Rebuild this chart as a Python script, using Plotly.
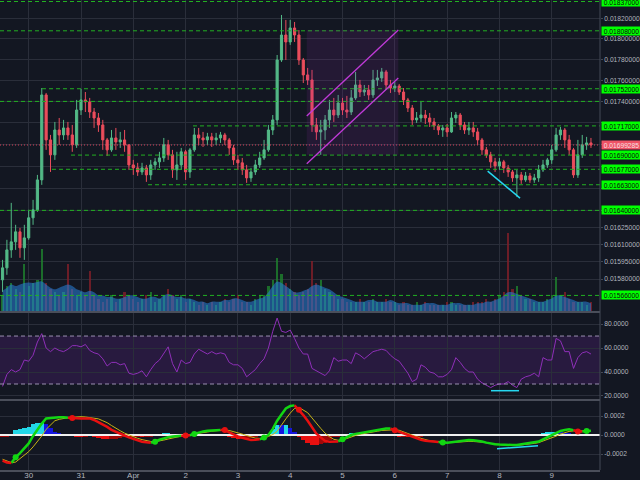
import math
import pandas as pd
import plotly.graph_objects as go

# ---------------- data ----------------
times = pd.date_range("2019-03-29 12:00", periods=136, freq="2h")

first_open = 0.015793
close = [0.015896, 0.016052, 0.016122, 0.016210, 0.016070, 0.016157, 0.016334, 0.016405, 0.016674, 0.017461,
         0.017040, 0.016902, 0.017132, 0.017086, 0.017151, 0.017086, 0.016994, 0.017319, 0.017414, 0.017395,
         0.017300, 0.017244, 0.017179, 0.017040, 0.016948, 0.017058, 0.017021, 0.017040, 0.016994, 0.016810,
         0.016783, 0.016746, 0.016783, 0.016719, 0.016810, 0.016838, 0.016874, 0.016994, 0.016902, 0.016765,
         0.016810, 0.016930, 0.016746, 0.016948, 0.017086, 0.017058, 0.017040, 0.017068, 0.017040, 0.017058,
         0.017086, 0.017040, 0.016966, 0.016856, 0.016829, 0.016765, 0.016692, 0.016746, 0.016810, 0.016874,
         0.016948, 0.017132, 0.017226, 0.017796, 0.018039, 0.017971, 0.018108, 0.018039, 0.017796, 0.017652,
         0.017604, 0.017179, 0.017114, 0.017132, 0.017226, 0.017319, 0.017272, 0.017385, 0.017319, 0.017300,
         0.017433, 0.017556, 0.017489, 0.017508, 0.017461, 0.017604, 0.017623, 0.017681, 0.017556, 0.017527,
         0.017546, 0.017489, 0.017414, 0.017338, 0.017226, 0.017244, 0.017272, 0.017244, 0.017207, 0.017170,
         0.017132, 0.017151, 0.017114, 0.017244, 0.017272, 0.017179, 0.017132, 0.017151, 0.017114, 0.017040,
         0.016948, 0.016902, 0.016838, 0.016801, 0.016838, 0.016783, 0.016746, 0.016692, 0.016719, 0.016674,
         0.016710, 0.016674, 0.016692, 0.016765, 0.016810, 0.016856, 0.016948, 0.017086, 0.017132, 0.017040,
         0.016948, 0.016719, 0.016902, 0.016994, 0.017012, 0.01699285]
high = [0.015965, 0.016140, 0.016467, 0.016272, 0.016245, 0.016272, 0.016405, 0.016494, 0.016719, 0.017527,
        0.017480, 0.017086, 0.017207, 0.017244, 0.017226, 0.017207, 0.017179, 0.017414, 0.017518, 0.017489,
        0.017433, 0.017338, 0.017291, 0.017226, 0.017058, 0.017132, 0.017151, 0.017114, 0.017132, 0.016994,
        0.016856, 0.016829, 0.016829, 0.016810, 0.016856, 0.016874, 0.016930, 0.017058, 0.017040, 0.016948,
        0.016930, 0.016966, 0.016948, 0.016966, 0.017151, 0.017151, 0.017114, 0.017105, 0.017105, 0.017105,
        0.017114, 0.017105, 0.017058, 0.016994, 0.016902, 0.016874, 0.016810, 0.016783, 0.016856, 0.016930,
        0.017040, 0.017179, 0.017272, 0.017844, 0.018236, 0.018187, 0.018187, 0.018167, 0.018088, 0.017815,
        0.017719, 0.017700, 0.017244, 0.017226, 0.017272, 0.017414, 0.017433, 0.017461, 0.017433, 0.017452,
        0.017508, 0.017681, 0.017604, 0.017556, 0.017556, 0.017700, 0.017700, 0.017719, 0.017700, 0.017604,
        0.017585, 0.017566, 0.017527, 0.017433, 0.017366, 0.017300, 0.017395, 0.017319, 0.017291, 0.017244,
        0.017188, 0.017179, 0.017188, 0.017300, 0.017300, 0.017291, 0.017207, 0.017207, 0.017207, 0.017151,
        0.017058, 0.016975, 0.016930, 0.016874, 0.016874, 0.016856, 0.016810, 0.016765, 0.016765, 0.016746,
        0.016746, 0.016737, 0.016728, 0.016810, 0.016856, 0.016874, 0.016994, 0.017151, 0.017160, 0.017151,
        0.017086, 0.016966, 0.017040, 0.017086, 0.017068, 0.017058]
low = [0.015690, 0.015836, 0.015983, 0.016052, 0.015983, 0.015965, 0.016140, 0.016272, 0.016387, 0.016629,
       0.016948, 0.016746, 0.016856, 0.016994, 0.017040, 0.017040, 0.016930, 0.016966, 0.017272, 0.017300,
       0.017244, 0.017151, 0.017114, 0.016948, 0.016893, 0.016930, 0.016948, 0.016966, 0.016930, 0.016765,
       0.016719, 0.016710, 0.016719, 0.016656, 0.016674, 0.016765, 0.016783, 0.016838, 0.016856, 0.016692,
       0.016674, 0.016765, 0.016674, 0.016692, 0.016930, 0.016994, 0.016975, 0.016994, 0.016975, 0.016994,
       0.017012, 0.016994, 0.016902, 0.016810, 0.016765, 0.016719, 0.016647, 0.016656, 0.016719, 0.016783,
       0.016856, 0.016930, 0.017086, 0.017179, 0.017777, 0.017796, 0.017942, 0.017971, 0.017748, 0.017575,
       0.017556, 0.017114, 0.017040, 0.016902, 0.017040, 0.017151, 0.017207, 0.017244, 0.017272, 0.017244,
       0.017272, 0.017414, 0.017442, 0.017452, 0.017414, 0.017433, 0.017546, 0.017585, 0.017508, 0.017480,
       0.017489, 0.017461, 0.017366, 0.017300, 0.017179, 0.017198, 0.017207, 0.017188, 0.017160, 0.017132,
       0.017086, 0.017068, 0.017068, 0.017105, 0.017198, 0.017132, 0.017095, 0.017086, 0.017068, 0.016994,
       0.016902, 0.016874, 0.016783, 0.016746, 0.016765, 0.016737, 0.016701, 0.016656, 0.016521, 0.016638,
       0.016656, 0.016647, 0.016647, 0.016656, 0.016746, 0.016783, 0.016820, 0.016930, 0.017040, 0.016966,
       0.016902, 0.016692, 0.016692, 0.016874, 0.016948, 0.016966]
volume = [5, 8, 9, 7, 6, 15, 8, 9, 10, 20,
          9, 7, 6, 5, 6, 15, 7, 5, 6, 5,
          13, 5, 4, 3, 4, 5, 3, 4, 6, 5,
          4, 3, 4, 5, 6, 3, 4, 5, 7, 5,
          4, 5, 3, 4, 3, 2, 3, 2, 3, 2,
          3, 4, 3, 4, 5, 3, 3, 2, 4, 5,
          5, 8, 10, 17, 12, 9, 7, 6, 5, 6,
          7, 16, 9, 10, 7, 6, 5, 4, 4, 3,
          3, 3, 4, 3, 3, 4, 3, 3, 4, 3,
          3, 2, 3, 2, 2, 3, 2, 3, 2, 2,
          2, 2, 3, 3, 2, 2, 2, 2, 3, 3,
          3, 4, 3, 4, 5, 6, 25, 7, 8, 5,
          4, 4, 3, 3, 3, 4, 5, 11, 5, 6,
          4, 3, 3, 3, 2, 3]
volume_ma = [6.5, 7.5, 8.5, 8.0, 8.5, 9.0, 9.2, 9.0, 9.3, 9.5,
             8.5, 7.5, 7.0, 7.5, 8.0, 8.5, 8.0, 7.0, 6.5, 6.0,
             6.5, 6.0, 5.0, 5.0, 4.5, 4.5, 4.0, 4.0, 4.5, 5.0,
             5.0, 4.5, 4.0, 4.0, 4.5, 4.5, 4.0, 5.0, 5.5, 5.0,
             4.5, 4.5, 4.0, 4.0, 3.5, 3.0, 3.0, 2.5, 3.0, 3.0,
             3.0, 3.5, 3.5, 4.0, 4.0, 3.5, 3.0, 3.0, 3.5, 4.0,
             4.5, 6.0, 8.0, 9.5, 9.0, 8.0, 7.0, 6.0, 6.0, 6.5,
             7.0, 8.0, 8.5, 8.0, 7.5, 7.0, 6.0, 5.0, 4.5, 4.0,
             3.5, 3.0, 3.0, 3.0, 3.5, 3.5, 3.0, 3.0, 3.0, 3.5,
             3.0, 2.5, 2.5, 2.5, 2.0, 2.0, 2.0, 2.5, 2.5, 2.5,
             2.0, 2.0, 2.0, 2.5, 2.5, 2.5, 2.0, 2.0, 2.0, 2.5,
             2.5, 3.0, 3.0, 3.5, 4.0, 5.0, 6.0, 6.0, 5.5, 5.0,
             4.5, 4.0, 3.5, 3.0, 3.0, 3.5, 4.0, 5.0, 5.0, 4.5,
             4.0, 3.5, 3.0, 3.0, 3.0, 2.5]
rsi = [28, 38, 42, 40, 42, 50, 49, 54, 65, 72,
       60, 57, 60, 58, 57, 59, 62, 62, 61, 63,
       58, 56, 55, 51, 45, 48, 48, 46, 47, 39,
       38, 39, 41, 36, 42, 47, 50, 56, 61, 47,
       40, 50, 47, 48, 55, 59, 57, 55, 57, 55,
       56, 55, 48, 46, 46, 43, 36, 39, 42, 47,
       51, 60, 74, 85, 74, 73, 75, 68, 60, 55,
       55, 43, 41, 39, 37, 41, 52, 49, 50, 50,
       47, 56, 54, 51, 54, 57, 58, 59, 58, 54,
       51, 49, 44, 39, 32, 34, 46, 44, 40, 39,
       36, 36, 38, 42, 52, 48, 43, 40, 40, 34,
       31, 29, 27, 29, 30, 30, 32, 29, 27, 34,
       36, 37, 39, 36, 52, 50, 50, 68, 66, 57,
       57, 43, 52, 56, 57, 55]
macd = [-270, -290, -295, -235, -190, -140, -88, -10, 60, 120,
        175, 180, 185, 186, 186, 183, 178, 175, 175, 175,
        175, 158, 135, 110, 85, 55, 32, 12, -5, -25,
        -42, -55, -70, -76, -80, -70, -50, -35, -22, -15,
        -12, -8, -5, -2, 10, 30, 38, 45, 48, 50,
        52, 52, 28, 3, -15, -30, -45, -53, -50, -45,
        -25, 0, 65, 150, 215, 280, 305, 312, 265, 210,
        150, 80, 15, -25, -62, -70, -70, -68, -45, -20,
        0, 12, 20, 28, 35, 45, 55, 62, 68, 68,
        50, 35, 20, 0, -20, -38, -50, -60, -65, -70,
        -74, -78, -80, -75, -70, -60, -53, -53, -55, -60,
        -68, -80, -90, -96, -100, -104, -105, -105, -105, -98,
        -92, -85, -75, -68, -45, -22, 0, 25, 42, 52,
        60, 50, 38, 36, 42, 44]
signal = [-255, -275, -290, -285, -250, -215, -175, -125, -70, -10,
          60, 110, 150, 165, 175, 182, 186, 190, 193, 190,
          185, 178, 170, 150, 130, 100, 70, 45, 20, 0,
          -20, -35, -48, -60, -68, -70, -65, -53, -42, -30,
          -20, -10, -2, 5, 10, 20, 25, 32, 40, 45,
          50, 53, 48, 38, 25, 10, -5, -20, -32, -36,
          -35, -15, 5, 40, 110, 170, 230, 280, 290, 265,
          235, 180, 120, 70, 20, -18, -45, -55, -53, -35,
          -18, -5, 8, 18, 25, 32, 40, 48, 53, 55,
          55, 50, 35, 18, 0, -18, -35, -50, -60, -65,
          -72, -78, -80, -78, -74, -70, -67, -67, -68, -70,
          -75, -82, -90, -96, -100, -105, -108, -109, -107, -104,
          -100, -96, -88, -80, -65, -50, -33, -12, 10, 28,
          38, 44, 42, 40, 42, 43]
macd_scale = 1e-6  # macd / signal lists are in millionths

level_prices = [0.01837, 0.01808, 0.01752, 0.01740, 0.01717, 0.01690, 0.01677, 0.01663, 0.01640, 0.01566]
level_starts = ["2019-03-29 10:50", "2019-03-29 10:50", "2019-03-30 06:06", "2019-03-29 10:50",
                "2019-04-02 03:23", "2019-03-30 19:25", "2019-03-30 10:41", "2019-04-01 06:45",
                "2019-03-29 10:50", "2019-03-29 10:50"]
level_labels = ["0.01837000", "0.01808000", "0.01752000", None, "0.01717000", "0.01690000",
                "0.01677000", "0.01663000", "0.01640000", "0.01566000"]
current_price = 0.01699285
current_label = "0.01699285"

channel_times = ["2019-04-04 07:35", "2019-04-06 01:36"]
channel_upper = [0.017263, 0.018088]
channel_lower = [0.016820, 0.017623]
channel_box = [0.016902, 0.018088]

trend_times = ["2019-04-07 18:37", "2019-04-08 09:27"]
trend_prices = [0.016753, 0.016510]
rsi_mark_times = ["2019-04-07 20:08", "2019-04-08 09:00"]
rsi_mark_values = [24.4, 24.4]
macd_mark_times = ["2019-04-07 22:54", "2019-04-08 17:42"]
macd_mark_values = [-0.000144, -0.000113]

x_range = ["2019-03-29 10:50", "2019-04-09 22:09"]
day_ticks = ["2019-03-30", "2019-03-31", "2019-04-01", "2019-04-02", "2019-04-03", "2019-04-04",
             "2019-04-05", "2019-04-06", "2019-04-07", "2019-04-08", "2019-04-09"]
day_labels = ["30", "31", "Apr", "2", "3", "4", "5", "6", "7", "8", "9"]
price_ticks = [0.0182, 0.0180, 0.0178, 0.0176, 0.0174, 0.0172, 0.0170, 0.0168, 0.0166, 0.0164,
               0.01625, 0.0161, 0.01595, 0.0158]
price_tick_text = ["0.01820000", "0.01800000", "0.01780000", "0.01760000", "0.01740000", "", "", "",
                   "", "", "0.01625000", "0.01610000", "0.01595000", "0.01580000"]
rsi_ticks = [20, 40, 60, 80]
macd_ticks = [-0.0002, 0.0, 0.0002]

# ---------------- derived ----------------
opens = [first_open] + close[:-1]
n = len(close)
m_vals = [v * macd_scale for v in macd]
s_vals = [v * macd_scale for v in signal]
hist = [a - b for a, b in zip(m_vals, s_vals)]

BG = "#131722"
GRID = "#2a2e3a"
AXC = "#454a56"
TXT = "#b2b5be"
FONT = "Liberation Sans, Arial, sans-serif"
GREEN_LVL = "#22b022"

fig = go.Figure()

# volume (base axis y)
vol_colors = ["rgba(30,125,45,0.85)" if c >= o else "rgba(125,30,40,0.85)" for o, c in zip(opens, close)]
fig.add_trace(go.Bar(x=times, y=volume, marker=dict(color=vol_colors, line_width=0),
                     width=3600000, xaxis="x", yaxis="y"))
fig.add_trace(go.Scatter(x=times, y=volume_ma, mode="lines", line=dict(width=0, shape="spline"),
                         fill="tozeroy", fillcolor="rgba(40,130,220,0.55)", xaxis="x", yaxis="y"))

# price levels (y2)
for p, st in zip(level_prices, level_starts):
    fig.add_trace(go.Scatter(x=[st, x_range[1]], y=[p, p], mode="lines",
                             line=dict(color=GREEN_LVL, width=1, dash="4px,3px"),
                             xaxis="x", yaxis="y2"))
fig.add_trace(go.Scatter(x=x_range, y=[current_price, current_price], mode="lines",
                         line=dict(color="#d8435a", width=1, dash="1px,2px"), xaxis="x", yaxis="y2"))

# channel
fig.add_trace(go.Scatter(x=[channel_times[0], channel_times[1], channel_times[1], channel_times[0], channel_times[0]],
                         y=[channel_box[0], channel_box[0], channel_box[1], channel_box[1], channel_box[0]],
                         mode="lines", line=dict(width=0), fill="toself",
                         fillcolor="rgba(156,39,176,0.13)", xaxis="x", yaxis="y2"))
fig.add_trace(go.Scatter(x=channel_times, y=channel_upper, mode="lines",
                         line=dict(color="#c03ad8", width=1.3), xaxis="x", yaxis="y2"))
fig.add_trace(go.Scatter(x=channel_times, y=channel_lower, mode="lines",
                         line=dict(color="#c03ad8", width=1.3), xaxis="x", yaxis="y2"))

# candles
fig.add_trace(go.Candlestick(x=times, open=opens, high=high, low=low, close=close,
                             increasing=dict(line=dict(color="#53b987", width=1), fillcolor="#53b987"),
                             decreasing=dict(line=dict(color="#eb4d5c", width=1), fillcolor="#eb4d5c"),
                             whiskerwidth=0, xaxis="x", yaxis="y2"))
fig.add_trace(go.Scatter(x=trend_times, y=trend_prices, mode="lines",
                         line=dict(color="#26d7f0", width=1.5), xaxis="x", yaxis="y2"))

# RSI
fig.add_trace(go.Scatter(x=times, y=rsi, mode="lines", line=dict(color="#8e2fb8", width=1),
                         xaxis="x", yaxis="y3"))
fig.add_trace(go.Scatter(x=rsi_mark_times, y=rsi_mark_values, mode="lines",
                         line=dict(color="#26d7f0", width=1.5), xaxis="x", yaxis="y3"))

# MACD histogram
hcols = []
for i, h in enumerate(hist):
    prev = hist[i - 1] if i else h
    if h >= 0:
        hcols.append("#22d8e8" if h >= prev else "#1414e0")
    else:
        hcols.append("#e81010" if h < prev else "#a00808")
fig.add_trace(go.Bar(x=times, y=hist, marker=dict(color=hcols, line_width=0), width=7200000,
                     xaxis="x", yaxis="y4"))
fig.add_trace(go.Scatter(x=x_range, y=[0, 0], mode="lines", line=dict(color="#f0f0f0", width=2),
                         xaxis="x", yaxis="y4"))
fig.add_trace(go.Scatter(x=times, y=s_vals, mode="lines", line=dict(color="#c8b414", width=1),
                         xaxis="x", yaxis="y4"))
# colored MACD line
gx, gy, rx, ry = [], [], [], []
runs = []
cur = None
for i in range(1, n):
    c = "g" if hist[i] >= 0 else "r"
    if c != cur:
        runs.append([c, [i - 1]])
        cur = c
    runs[-1][1].append(i)
for c, idx in runs:
    tx = [times[k] for k in idx] + [None]
    ty = [m_vals[k] for k in idx] + [None]
    if c == "g":
        gx += tx; gy += ty
    else:
        rx += tx; ry += ty
fig.add_trace(go.Scatter(x=gx, y=gy, mode="lines", line=dict(color="#12d612", width=2.5),
                         xaxis="x", yaxis="y4"))
fig.add_trace(go.Scatter(x=rx, y=ry, mode="lines", line=dict(color="#e81010", width=2.5),
                         xaxis="x", yaxis="y4"))
dgx, dgy, drx, dry = [], [], [], []
for i in range(1, n):
    if (hist[i] >= 0) != (hist[i - 1] >= 0):
        if hist[i] >= 0:
            dgx.append(times[i]); dgy.append(m_vals[i])
        else:
            drx.append(times[i]); dry.append(m_vals[i])
fig.add_trace(go.Scatter(x=dgx, y=dgy, mode="markers", marker=dict(color="#12d612", size=6),
                         xaxis="x", yaxis="y4"))
fig.add_trace(go.Scatter(x=drx, y=dry, mode="markers", marker=dict(color="#e81010", size=6),
                         xaxis="x", yaxis="y4"))
fig.add_trace(go.Scatter(x=macd_mark_times, y=macd_mark_values, mode="lines",
                         line=dict(color="#26d7f0", width=1.5), xaxis="x", yaxis="y4"))

# ---------------- layout ----------------
MAIN = [0.3383, 1.0]
RSI_D = [0.1511, 0.3340]
MACD_D = [0.0, 0.1468]

yaxis_common = dict(side="right", anchor="x", showline=False, ticks="outside", ticklen=2,
                    tickcolor=AXC, gridcolor=GRID, gridwidth=1, zeroline=False,
                    tickfont=dict(size=6.7, color=TXT, family=FONT), fixedrange=True)

shapes = [
    dict(type="rect", xref="paper", x0=0, x1=1, yref="y3", y0=30, y1=70,
         fillcolor="rgba(126,40,180,0.2)", line_width=0, layer="below"),
    dict(type="line", xref="paper", x0=0, x1=1, yref="y3", y0=70, y1=70,
         line=dict(color="#9a8fb0", width=1, dash="4px,3px")),
    dict(type="line", xref="paper", x0=0, x1=1, yref="y3", y0=30, y1=30,
         line=dict(color="#9a8fb0", width=1, dash="4px,3px")),
    dict(type="line", xref="paper", x0=0, x1=1, yref="paper", y0=0.3362, y1=0.3362,
         line=dict(color="#4a4e5a", width=2)),
    dict(type="line", xref="paper", x0=0, x1=1, yref="paper", y0=0.1489, y1=0.1489,
         line=dict(color="#4a4e5a", width=2)),
    dict(type="line", xref="paper", x0=1, x1=1, yref="paper", y0=0, y1=1,
         line=dict(color=AXC, width=1)),
]

annotations = []
for p, lab in zip(level_prices, level_labels):
    if lab is None:
        continue
    annotations.append(dict(xref="paper", x=1, xanchor="left", xshift=1, yref="y2",
                            y=math.log10(p), yanchor="middle", text=lab, showarrow=False,
                            bgcolor="#00ff00", borderpad=0.5, width=38, align="center",
                            font=dict(size=6.7, color="#0b0b0b", family=FONT)))
annotations.append(dict(xref="paper", x=1, xanchor="left", xshift=1, yref="y2",
                        y=math.log10(current_price), yanchor="middle", text=current_label,
                        showarrow=False, bgcolor="#ef5366", borderpad=0.5, width=38, align="center",
                        font=dict(size=6.7, color="#f6e0e4", family=FONT)))

fig.update_layout(
    width=640, height=480,
    margin=dict(l=0, r=40, t=0, b=10, autoexpand=False),
    paper_bgcolor=BG, plot_bgcolor=BG,
    showlegend=False, bargap=0, barmode="overlay",
    font=dict(family=FONT, color=TXT),
    xaxis=dict(type="date", range=x_range, anchor="y4", tickvals=day_ticks, ticktext=day_labels,
               showgrid=True, gridcolor=GRID, ticks="", showline=True, linecolor="#4a4e5a",
               linewidth=2, tickfont=dict(size=8, color=TXT, family=FONT), ticklabelstandoff=-4,
               rangeslider=dict(visible=False), fixedrange=True),
    yaxis=dict(domain=MAIN, range=[0, 100], visible=False, showgrid=False, fixedrange=True),
    yaxis2=dict(yaxis_common, overlaying="y", type="log",
                range=[math.log10(0.015528), math.log10(0.018385)],
                tickvals=price_ticks, ticktext=price_tick_text),
    yaxis3=dict(yaxis_common, domain=RSI_D, range=[17.5, 89.2], tickvals=rsi_ticks,
                ticktext=["%.4f" % v for v in rsi_ticks]),
    yaxis4=dict(yaxis_common, domain=MACD_D, range=[-0.000368, 0.000358], tickvals=macd_ticks,
                ticktext=["-0.0002", "0.0000", "0.0002"]),
    shapes=shapes,
    annotations=annotations,
)

fig.write_html("out.html", config={"displayModeBar": False},
               post_script="document.body.style.margin='0px';document.body.style.overflow='hidden';")
